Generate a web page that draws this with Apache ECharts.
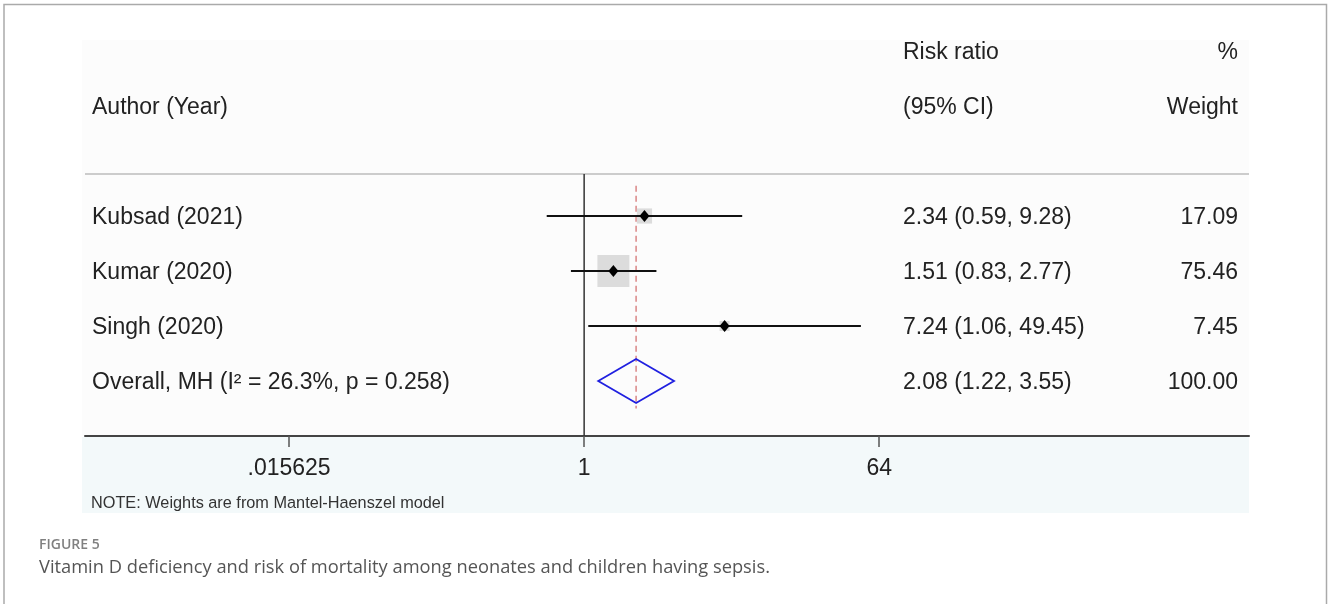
<!DOCTYPE html>
<html>
<head>
<meta charset="utf-8">
<script src="https://cdn.jsdelivr.net/npm/echarts@6/dist/echarts.min.js"></script>
<style>
html,body{margin:0;padding:0;background:#fff;}
#chart{width:1328px;height:604px;}
</style>
</head>
<body>
<div id="chart"></div>
<script>
// ---- data ----
const studies = ['Kubsad (2021)', 'Kumar (2020)', 'Singh (2020)'];
const riskRatio = [2.34, 1.51, 7.24];
const ciLow = [0.59, 0.83, 1.06];
const ciHigh = [9.28, 2.77, 49.45];
const weights = [17.09, 75.46, 7.45];

const overallLabel = 'Overall, MH (I\u00B2 = 26.3%, p = 0.258)';
const overallRR = 2.08;
const overallLow = 1.22;
const overallHigh = 3.55;
const overallWeight = 100.00;

const headerLeft = ['', 'Author (Year)'];
const headerMid = ['Risk ratio', '(95% CI)'];
const headerRight = ['%', 'Weight'];

const tickValues = [0.015625, 1, 64];
const tickLabels = ['.015625', '1', '64'];

const noteText = 'NOTE: Weights are from Mantel-Haenszel model';
const figureLabel = 'FIGURE 5';
const captionText = 'Vitamin D deficiency and risk of mortality among neonates and children having sepsis.';

// ---- build ----
const L2 = Math.log2;
const FONT = '"Liberation Sans", Arial, Helvetica, sans-serif';
const TXT = '#222';
const xMin = -10.15, xMax = 13.52;
const sepRow = 2.236;
const firstRow = 3;
const overallRow = firstRow + studies.length;

const studyData = studies.map((s, i) => [L2(riskRatio[i]), firstRow + i, L2(ciLow[i]), L2(ciHigh[i]), weights[i]]);

const tableRows = [];
headerLeft.forEach((t, i) => tableRows.push({ row: i, a: t, b: headerMid[i], c: headerRight[i] }));
studies.forEach((s, i) => tableRows.push({
  row: firstRow + i, a: s,
  b: riskRatio[i].toFixed(2) + ' (' + ciLow[i].toFixed(2) + ', ' + ciHigh[i].toFixed(2) + ')',
  c: weights[i].toFixed(2)
}));
tableRows.push({
  row: overallRow, a: overallLabel,
  b: overallRR.toFixed(2) + ' (' + overallLow.toFixed(2) + ', ' + overallHigh.toFixed(2) + ')',
  c: overallWeight.toFixed(2)
});

const chart = echarts.init(document.getElementById('chart'), null, { renderer: 'canvas' });

const option = {
  animation: false,
  backgroundColor: '#fff',
  grid: { left: 85, right: 79, top: 51, bottom: 168 },
  xAxis: {
    type: 'value', min: xMin, max: xMax,
    axisLine: { show: true, onZero: false, lineStyle: { color: '#444', width: 2 } },
    axisTick: { show: true, customValues: tickValues.map(L2), length: 11, lineStyle: { color: '#555', width: 1.5 } },
    axisLabel: {
      show: true, customValues: tickValues.map(L2), margin: 21,
      formatter: v => { const k = tickValues.findIndex(t => Math.abs(L2(t) - v) < 1e-6); return k >= 0 ? tickLabels[k] : ''; },
      color: TXT, fontSize: 23, fontFamily: FONT
    },
    splitLine: { show: false }
  },
  yAxis: { type: 'value', min: 0, max: 7, inverse: true, show: false, splitLine: { show: false } },
  graphic: [
    { type: 'rect', z: -10, shape: { x: 82, y: 40, width: 1167, height: 396 }, style: { fill: '#fcfcfc' } },
    { type: 'rect', z: -10, shape: { x: 82, y: 437, width: 1167, height: 76 }, style: { fill: '#f3f9fa' } },
    { type: 'line', z: -5, shape: { x1: 85, y1: 174, x2: 1249, y2: 174 }, style: { stroke: '#cccccc', lineWidth: 2 } },
    { type: 'polyline', z: 50, shape: { points: [[4, 700], [4, 4.5], [1326.5, 4.5], [1326.5, 700]] }, style: { stroke: '#aaaaaa', lineWidth: 1.5, fill: null } },
    { type: 'text', x: 91, y: 504, style: { text: noteText, font: '16.3px ' + FONT, fill: '#333', verticalAlign: 'middle' } },
    { type: 'text', x: 39, y: 545, style: { text: figureLabel, font: '600 14px "Open Sans", "Noto Sans", sans-serif', fill: '#808080', verticalAlign: 'middle' } },
    { type: 'text', x: 39, y: 568, style: { text: captionText, font: '18.3px "Open Sans", "Noto Sans", sans-serif', fill: '#555', verticalAlign: 'middle' } }
  ],
  series: [
    { // null line at RR = 1
      type: 'line', symbol: 'none', silent: true, z: 3,
      data: [[L2(1), sepRow], [L2(1), 7]],
      lineStyle: { color: '#333', width: 1.5 }
    },
    { // overall effect dashed line
      type: 'line', symbol: 'none', silent: true, z: 4,
      data: [[L2(overallRR), 2.45], [L2(overallRR), 6.5]],
      lineStyle: { color: '#d98585', width: 1.5, type: [6, 4] }
    },
    { // study boxes, CIs, point estimates
      type: 'custom', z: 5,
      data: studyData,
      encode: { x: [0, 2, 3], y: 1 },
      renderItem: (params, api) => {
        const c = api.coord([api.value(0), api.value(1)]);
        const l = api.coord([api.value(2), api.value(1)]);
        const h = api.coord([api.value(3), api.value(1)]);
        const side = 3.68 * Math.sqrt(api.value(4));
        return {
          type: 'group', children: [
            { type: 'rect', shape: { x: c[0] - side / 2, y: c[1] - side / 2, width: side, height: side }, style: { fill: '#dcdcdc' } },
            { type: 'line', shape: { x1: l[0], y1: l[1], x2: h[0], y2: h[1] }, style: { stroke: '#111', lineWidth: 2 } },
            { type: 'polygon', shape: { points: [[c[0] - 5, c[1]], [c[0], c[1] - 6], [c[0] + 5, c[1]], [c[0], c[1] + 6]] }, style: { fill: '#000' } }
          ]
        };
      }
    },
    { // overall diamond
      type: 'custom', z: 5,
      data: [[L2(overallRR), overallRow, L2(overallLow), L2(overallHigh)]],
      encode: { x: [0, 2, 3], y: 1 },
      renderItem: (params, api) => {
        const y = api.value(1);
        const pL = api.coord([api.value(2), y]);
        const pT = api.coord([api.value(0), y - 0.4]);
        const pR = api.coord([api.value(3), y]);
        const pB = api.coord([api.value(0), y + 0.4]);
        return { type: 'polygon', shape: { points: [pL, pT, pR, pB] }, style: { fill: 'none', stroke: '#2020e0', lineWidth: 1.8 } };
      }
    },
    { // table text
      type: 'custom', z: 6,
      data: tableRows.map((r, i) => [0, r.row, i]),
      encode: { y: 1 },
      renderItem: (params, api) => {
        const r = tableRows[api.value(2)];
        const y = api.coord([0, api.value(1)])[1] + 1.5;
        const f = '23px ' + FONT;
        return {
          type: 'group', children: [
            { type: 'text', x: 92, y: y, style: { text: r.a, font: f, fill: TXT, verticalAlign: 'middle', align: 'left' } },
            { type: 'text', x: 903, y: y, style: { text: r.b, font: f, fill: TXT, verticalAlign: 'middle', align: 'left' } },
            { type: 'text', x: 1238, y: y, style: { text: r.c, font: f, fill: TXT, verticalAlign: 'middle', align: 'right' } }
          ]
        };
      }
    }
  ]
};
chart.setOption(option);
</script>
</body>
</html>
